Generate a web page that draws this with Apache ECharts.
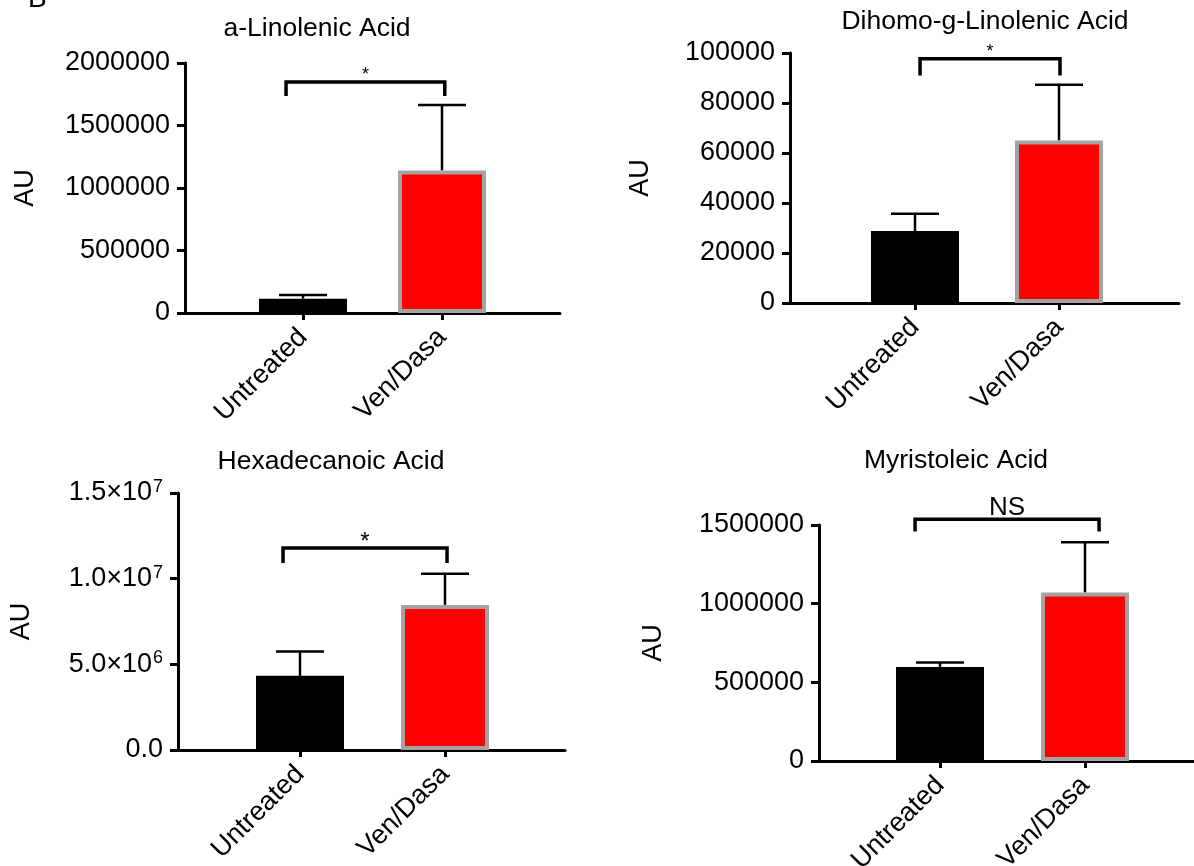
<!DOCTYPE html>
<html><head><meta charset="utf-8">
<script src="https://cdn.jsdelivr.net/npm/echarts@6/dist/echarts.min.js"></script>
<style>html,body{margin:0;padding:0;background:#fff}#c{width:1194px;height:866px}</style>
</head><body><div id="c"></div>
<script>
// ---------- data ----------
const categories = ['Untreated', 'Ven/Dasa'];
const titles = ['a-Linolenic Acid', 'Dihomo-g-Linolenic Acid', 'Hexadecanoic Acid', 'Myristoleic Acid'];
const yAxisName = 'AU';
const panelLetter = 'B';

const linolenicMean = [115000, 1140000];
const linolenicUpper = [145000, 1665000];
const linolenicAxis = [0, 2000000, 500000];
const linolenicBracket = [0.878, 2.02, 1848000, 1736000];

const dihomoMean = [28800, 65000];
const dihomoUpper = [35700, 87300];
const dihomoAxis = [0, 100000, 20000];
const dihomoBracket = [1.035, 2.007, 97700, 91000];

const hexaMean = [4330000, 8470000];
const hexaUpper = [5750000, 10290000];
const hexaAxis = [0, 15000000, 5000000];
const hexaBracket = [0.883, 2.014, 11790000, 10910000];

const myristMean = [598000, 1071000];
const myristUpper = [626000, 1390000];
const myristAxis = [0, 1500000, 500000];
const myristBracket = [0.828, 2.097, 1536000, 1458000];

const sigLabels = ['*', '*', '*', 'NS'];

// ---------- layout ----------
const FONT = "'Liberation Sans', Arial, sans-serif";
const layout = [
  {left:185, top:63, width:375, height:250, t1:303, t2:442, title:[317,29], nameGap:146, sigSize:18, sigOff:-7},
  {left:790, top:53, width:389, height:250, t1:915, t2:1059, title:[985,22], nameGap:136, sigSize:18, sigOff:-7},
  {left:178, top:493, width:387, height:257, t1:300, t2:445, title:[331,462], nameGap:143, sigSize:24, sigOff:-6},
  {left:819, top:525, width:380, height:236, t1:940, t2:1085, title:[956,461], nameGap:152, sigSize:26, sigOff:-12}
];
const panels = [
  {mean: linolenicMean, upper: linolenicUpper, axis: linolenicAxis, bracket: linolenicBracket},
  {mean: dihomoMean, upper: dihomoUpper, axis: dihomoAxis, bracket: dihomoBracket},
  {mean: hexaMean, upper: hexaUpper, axis: hexaAxis, bracket: hexaBracket},
  {mean: myristMean, upper: myristUpper, axis: myristAxis, bracket: myristBracket}
];

function sciLabel(v) {
  if (v === 0) return '{b|0.0}';
  const e = Math.floor(Math.log10(v));
  const m = (v / Math.pow(10, e)).toFixed(1);
  return '{b|' + m + '×10}{s|' + e + '}';
}

const TICK_FS = 27;
const grids = [], xAxes = [], yAxes = [], series = [], graphics = [];
layout.forEach((L, i) => {
  const P = panels[i];
  const unit = L.t2 - L.t1;
  const xmin = 1 - (L.t1 - L.left) / unit;
  const xmax = 2 + (L.left + L.width - L.t2) / unit;
  grids.push({left: L.left, top: L.top, width: L.width, height: L.height, containLabel: false, outerBoundsMode: 'none'});
  xAxes.push({
    type: 'value', gridIndex: i, min: xmin, max: xmax,
    splitLine: {show: false},
    axisLine: {show: true, onZero: false, lineStyle: {color: '#000', width: 3}},
    axisTick: {show: true, inside: false, length: 7, customValues: [1, 2], lineStyle: {color: '#000', width: 3}},
    axisLabel: {
      show: true, customValues: [1, 2], rotate: 45, margin: 20,
      color: '#000', fontSize: 27, fontFamily: FONT,
      formatter: v => categories[Math.round(v) - 1] || ''
    }
  });
  yAxes.push({
    type: 'value', gridIndex: i, min: P.axis[0], max: P.axis[1], interval: P.axis[2],
    name: yAxisName, nameLocation: 'middle', nameGap: L.nameGap,
    nameTextStyle: {color: '#000', fontSize: 27, fontFamily: FONT},
    splitLine: {show: false},
    axisLine: {show: true, lineStyle: {color: '#000', width: 3}},
    axisTick: {show: true, inside: false, length: 8, lineStyle: {color: '#000', width: 3}},
    axisLabel: i === 2 ? {
      color: '#000', fontSize: TICK_FS, fontFamily: FONT, margin: 15,
      formatter: sciLabel,
      rich: {
        b: {fontSize: TICK_FS, fontFamily: FONT, color: '#000'},
        s: {fontSize: 18, fontFamily: FONT, color: '#000', verticalAlign: 'top', padding: [0, 0, 12, 1]}
      }
    } : {color: '#000', fontSize: TICK_FS, fontFamily: FONT, margin: 15, formatter: v => String(v)}
  });
  // error bars (upper only)
  series.push({
    type: 'custom', xAxisIndex: i, yAxisIndex: i, z: 1,
    data: P.mean.map((m, k) => [k + 1, m, P.upper[k]]),
    encode: {x: 0, y: [1, 2]},
    renderItem: (params, api) => {
      const p0 = api.coord([api.value(0), api.value(1)]);
      const p1 = api.coord([api.value(0), api.value(2)]);
      return {type: 'group', children: [
        {type: 'line', shape: {x1: p0[0], y1: p0[1], x2: p1[0], y2: p1[1]}, style: {stroke: '#000', lineWidth: 2.5}},
        {type: 'line', shape: {x1: p1[0] - 24, y1: p1[1], x2: p1[0] + 24, y2: p1[1]}, style: {stroke: '#000', lineWidth: 2.5}}
      ]};
    }
  });
  // bars
  series.push({
    type: 'bar', xAxisIndex: i, yAxisIndex: i, barWidth: 88, z: 2,
    data: P.mean.map((m, k) => ({
      value: [k + 1, m],
      itemStyle: k === 0 ? {color: '#000', borderColor: '#000', borderWidth: 3}
                         : {color: '#ff0000', borderColor: '#a3a3a3', borderWidth: 4}
    }))
  });
  // significance bracket
  series.push({
    type: 'custom', xAxisIndex: i, yAxisIndex: i, z: 3, clip: false,
    data: [P.bracket],
    encode: {x: [0, 1], y: [2, 3]},
    renderItem: (params, api) => {
      const a = api.coord([api.value(0), api.value(3)]);
      const b = api.coord([api.value(0), api.value(2)]);
      const c = api.coord([api.value(1), api.value(2)]);
      const d = api.coord([api.value(1), api.value(3)]);
      return {type: 'group', children: [
        {type: 'polyline', shape: {points: [a, b, c, d]}, style: {stroke: '#000', lineWidth: 3.5, fill: null}},
        {type: 'text', x: (b[0] + c[0]) / 2, y: b[1] + L.sigOff,
         style: {text: sigLabels[i], fill: '#000', fontSize: L.sigSize, fontFamily: FONT, align: 'center', verticalAlign: 'middle'}}
      ]};
    }
  });
  graphics.push({type: 'text', x: L.title[0], y: L.title[1],
    style: {text: titles[i], fill: '#000', fontSize: 26.5, fontFamily: FONT, align: 'center', verticalAlign: 'middle'}});
});
graphics.push({type: 'text', x: 28, y: 13, style: {text: panelLetter, fill: '#000', fontSize: 28, fontFamily: FONT, align: 'left', verticalAlign: 'bottom'}});

const chart = echarts.init(document.getElementById('c'), null, {renderer: 'canvas'});
chart.setOption({
  animation: false,
  backgroundColor: '#fff',
  grid: grids, xAxis: xAxes, yAxis: yAxes, series: series, graphic: graphics
});
</script></body></html>
